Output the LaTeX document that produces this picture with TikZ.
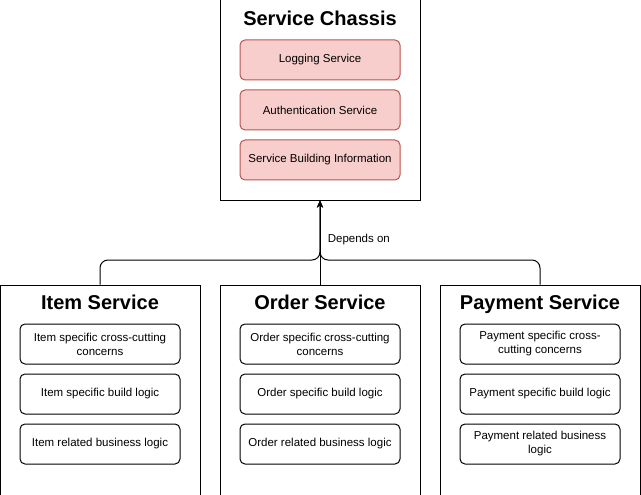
\documentclass[tikz,border=0pt]{standalone}
\usepackage{fontspec}
\setmainfont{Liberation Sans}
\usetikzlibrary{arrows.meta,positioning}
\definecolor{redfill}{HTML}{F8CECC}
\definecolor{redline}{HTML}{B85450}
\tikzset{
  outer/.style={draw, line width=1, minimum width=200, minimum height=200, inner sep=0},
  wide/.style={outer, minimum height=210},
  title/.style={font=\fontsize{20}{22}\selectfont\bfseries, anchor=base},
  part/.style={draw, line width=1, rounded corners=5, minimum width=160, minimum height=40,
    align=center, font=\fontsize{11.5}{14}\selectfont, inner sep=2},
  redpart/.style={part, fill=redfill, draw=redline},
  dep/.style={line width=1, -{Stealth[length=7,width=6]}, rounded corners=8}
}
\begin{document}
\begin{tikzpicture}[x=1pt, y=-1pt]
  \useasboundingbox (0,0) rectangle (641,495);
  % top box
  \node[outer] (chassis) at (320,100) {};
  \node[title] at (320,26) {Service Chassis};
  \node[redpart] (logging) at (320,60) {Logging Service};
  \node[redpart] (auth) at (320,110) {Authentication Service};
  \node[redpart] (build) at (320,160) {Service Building Information};
  % bottom boxes
  \node[wide] (item) at (100,390) {};
  \node[wide] (order) at (320,390) {};
  \node[wide] (payment) at (540,390) {};
  \node[title] at (100,309) {Item Service};
  \node[title] at (320,309) {Order Service};
  \node[title] at (540,309) {Payment Service};
  \node[part] (itemcc) at (100,344) {Item specific cross-cutting\\concerns};
  \node[part] (itembl) at (100,394) {Item specific build logic};
  \node[part] (itembiz) at (100,444) {Item related business logic};
  \node[part] (ordercc) at (320,344) {Order specific cross-cutting\\concerns};
  \node[part] (orderbl) at (320,394) {Order specific build logic};
  \node[part] (orderbiz) at (320,444) {Order related business logic};
  \node[part] (paycc) at (540,344) {Payment specific cross-\\cutting concerns};
  \node[part] (paybl) at (540,394) {Payment specific build logic};
  \node[part] (paybiz) at (540,444) {Payment related business\\logic};
  % connectors
  \draw[dep] (item.north) |- (320,260) -- (chassis.south);
  \draw[dep] (payment.north) |- (320,260) -- (chassis.south);
  \draw[dep] (order.north) -- (chassis.south)
    node[pos=0.53, right=4, font=\fontsize{11.5}{14}\selectfont] {Depends on};
\end{tikzpicture}
\end{document}
